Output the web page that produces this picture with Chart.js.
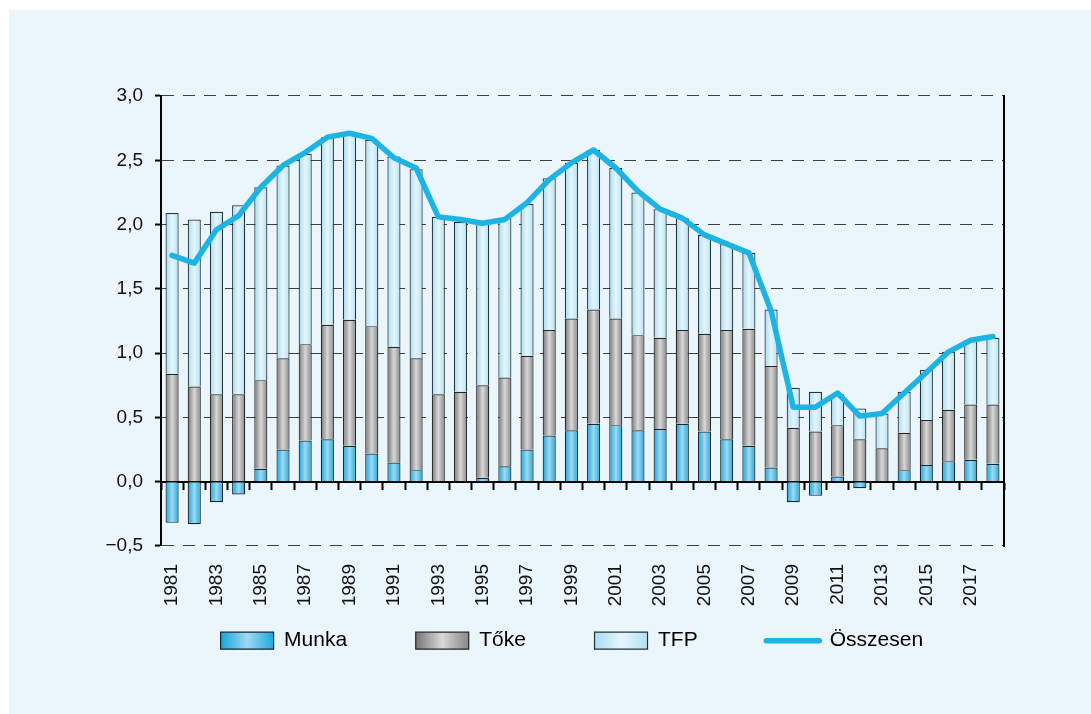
<!DOCTYPE html>
<html>
<head>
<meta charset="utf-8">
<script src="https://cdn.jsdelivr.net/npm/chart.js@4.4.1/dist/chart.umd.min.js"></script>
<style>
html,body{margin:0;padding:0;background:#ffffff;}
#wrap{position:absolute;left:9px;top:10px;width:1082px;height:704px;background:#eaf5fc;}
canvas{display:block;}
</style>
</head>
<body>
<div id="wrap"><canvas id="c" width="1082" height="704"></canvas></div>
<script>
// ---- data ----
const years = ['1981','1982','1983','1984','1985','1986','1987','1988','1989','1990',
  '1991','1992','1993','1994','1995','1996','1997','1998','1999','2000',
  '2001','2002','2003','2004','2005','2006','2007','2008','2009','2010',
  '2011','2012','2013','2014','2015','2016','2017','2018'];
const shownYears = ['1981','1983','1985','1987','1989','1991','1993','1995','1997','1999',
  '2001','2003','2005','2007','2009','2011','2013','2015','2017'];
const yTickLabels = ['\u22120,5','0,0','0,5','1,0','1,5','2,0','2,5','3,0'];
const seriesNames = ['Munka','T\u0151ke','TFP','\u00d6sszesen'];

const munka = [-0.32,-0.33,-0.16,-0.10,0.10,0.25,0.32,0.33,0.28,0.22,
  0.15,0.09,0.00,0.00,0.03,0.12,0.25,0.36,0.40,0.45,
  0.44,0.40,0.41,0.45,0.39,0.33,0.28,0.11,-0.16,-0.11,
  0.04,-0.05,0.00,0.09,0.13,0.16,0.17,0.14];
const toke = [0.84,0.74,0.68,0.68,0.69,0.71,0.75,0.89,0.98,0.99,
  0.90,0.87,0.68,0.70,0.72,0.69,0.73,0.82,0.87,0.89,
  0.83,0.74,0.71,0.73,0.76,0.85,0.91,0.79,0.42,0.39,
  0.40,0.33,0.26,0.29,0.35,0.40,0.43,0.46];
const tfp = [1.25,1.30,1.42,1.47,1.50,1.50,1.48,1.46,1.44,1.45,
  1.48,1.47,1.38,1.32,1.26,1.24,1.18,1.18,1.21,1.24,
  1.17,1.11,1.00,0.87,0.77,0.67,0.59,0.44,0.31,0.31,
  0.24,0.24,0.27,0.32,0.39,0.45,0.50,0.52];
const osszesen = [1.76,1.70,1.96,2.07,2.29,2.46,2.56,2.68,2.71,2.67,
  2.52,2.44,2.06,2.04,2.01,2.04,2.17,2.35,2.48,2.58,
  2.44,2.26,2.12,2.05,1.92,1.85,1.78,1.33,0.58,0.58,
  0.69,0.51,0.53,0.69,0.85,1.01,1.10,1.13];

// ---- styles ----
const MUNKA_STOPS = [[0,'#16a4d9'],[0.5,'#9fd9f2'],[1,'#1fa9dd']];
const TOKE_STOPS  = [[0,'#767676'],[0.5,'#d8d8d8'],[1,'#878787']];
const TFP_STOPS   = [[0,'#a6dbf2'],[0.5,'#e6f6fd'],[1,'#b3e1f5']];
const LINE_C = '#1db4e4';
const BAR_PCT = 0.59;
const LEG_BOX_W = 53;
const LEG_LEFT = 143;
const LEG_TOP = 551.6;

Chart.defaults.font.family = "'Liberation Sans', Arial, sans-serif";
Chart.defaults.color = '#111';

function gradFill(stops) {
  return (c) => {
    const chart = c.chart;
    const xs = chart.scales && chart.scales.x;
    if (!chart.chartArea || !xs || c.dataIndex === undefined) return stops[1][1];
    const cx = xs.getPixelForValue(c.dataIndex);
    const half = xs.width / years.length * BAR_PCT / 2;
    const g = chart.ctx.createLinearGradient(cx - half, 0, cx + half, 0);
    stops.forEach(s => g.addColorStop(s[0], s[1]));
    return g;
  };
}

const legendTweak = {
  id: 'legendTweak',
  afterLayout(chart) {
    const lg = chart.legend;
    if (!lg) return;
    const w = lg.width, h = lg.height;
    lg.left = LEG_LEFT; lg.right = LEG_LEFT + w;
    lg.top = LEG_TOP; lg.bottom = LEG_TOP + h;
  },
  beforeDraw(chart) {
    const lg = chart.legend;
    if (!lg || !lg.legendItems || !lg.legendHitBoxes) return;
    const all = [MUNKA_STOPS, TOKE_STOPS, TFP_STOPS];
    lg.legendItems.forEach((it, i) => {
      const hb = lg.legendHitBoxes[i];
      if (!hb || !all[i]) return;
      const g = chart.ctx.createLinearGradient(hb.left, 0, hb.left + LEG_BOX_W, 0);
      all[i].forEach(s => g.addColorStop(s[0], s[1]));
      it.fillStyle = g;
    });
  }
};

new Chart(document.getElementById('c'), {
  type: 'bar',
  data: {
    labels: years,
    datasets: [
      {type:'line', label: seriesNames[3], data: osszesen, borderColor: LINE_C, backgroundColor: LINE_C,
       borderWidth: 5.5, pointRadius: 0, tension: 0, stack: 'line', order: 0,
       borderJoinStyle: 'round', borderCapStyle: 'round', fill: false},
      {label: seriesNames[0], data: munka, backgroundColor: gradFill(MUNKA_STOPS), borderColor: '#17262c',
       borderWidth: 1.2, stack: 's', order: 1, barPercentage: BAR_PCT, categoryPercentage: 1},
      {label: seriesNames[1], data: toke, backgroundColor: gradFill(TOKE_STOPS), borderColor: '#262626',
       borderWidth: 1.2, stack: 's', order: 1, barPercentage: BAR_PCT, categoryPercentage: 1},
      {label: seriesNames[2], data: tfp, backgroundColor: gradFill(TFP_STOPS), borderColor: '#24323a',
       borderWidth: 1.2, stack: 's', order: 1, barPercentage: BAR_PCT, categoryPercentage: 1}
    ]
  },
  options: {
    responsive: false,
    animation: false,
    devicePixelRatio: 1,
    events: [],
    layout: {padding: {left: 0, right: 5, top: 86, bottom: 2.4}},
    plugins: {
      tooltip: {enabled: false},
      legend: {
        position: 'bottom',
        align: 'start',
        labels: {
          usePointStyle: true,
          pointStyleWidth: LEG_BOX_W,
          boxHeight: 17,
          padding: 68.6,
          color: '#111',
          font: {size: 21},
          generateLabels: () => [
            {text: seriesNames[0], fillStyle: '#6cc8ec', strokeStyle: '#17262c', lineWidth: 1.2, pointStyle: 'rect', datasetIndex: 1, hidden: false},
            {text: seriesNames[1], fillStyle: '#b0b0b0', strokeStyle: '#262626', lineWidth: 1.2, pointStyle: 'rect', datasetIndex: 2, hidden: false},
            {text: seriesNames[2], fillStyle: '#cfeefb', strokeStyle: '#24323a', lineWidth: 1.2, pointStyle: 'rect', datasetIndex: 3, hidden: false},
            {text: seriesNames[3], fillStyle: 'rgba(0,0,0,0)', strokeStyle: LINE_C, lineWidth: 5.5, lineCap: 'round', pointStyle: 'line', datasetIndex: 0, hidden: false}
          ]
        }
      }
    },
    scales: {
      x: {
        stacked: true,
        offset: true,
        grid: {display: false},
        border: {display: false},
        ticks: {
          autoSkip: false, minRotation: 90, maxRotation: 90, padding: 10,
          color: '#111', font: {size: 19},
          callback: (v, i) => shownYears.includes(years[i]) ? years[i] : ''
        },
        afterFit: s => { s.height = 66; }
      },
      x0: {
        type: 'category',
        position: {y: 0},
        offset: true,
        grid: {offset: true, display: true, drawOnChartArea: false, drawTicks: true, tickLength: 7, tickColor: '#000', tickWidth: 2},
        border: {display: true, color: '#000', width: 2},
        ticks: {display: false}
      },
      y: {
        stacked: true,
        min: -0.5, max: 3,
        ticks: {
          stepSize: 0.5, padding: 12, color: '#111', font: {size: 19},
          callback: v => yTickLabels[Math.round((v + 0.5) / 0.5)]
        },
        grid: {color: '#3f3f3f', lineWidth: 1.1, drawTicks: true, tickLength: 6, tickColor: '#000', tickWidth: 2},
        border: {display: true, color: '#000', width: 2, dash: [12, 9]},
        afterFit: s => { s.width = 152; }
      },
      yR: {
        position: 'right',
        min: -0.5, max: 3,
        ticks: {display: false},
        grid: {display: false},
        border: {display: true, color: '#000', width: 2},
        afterFit: s => { s.width = 82; }
      }
    }
  },
  plugins: [legendTweak]
});
</script>
</body>
</html>
